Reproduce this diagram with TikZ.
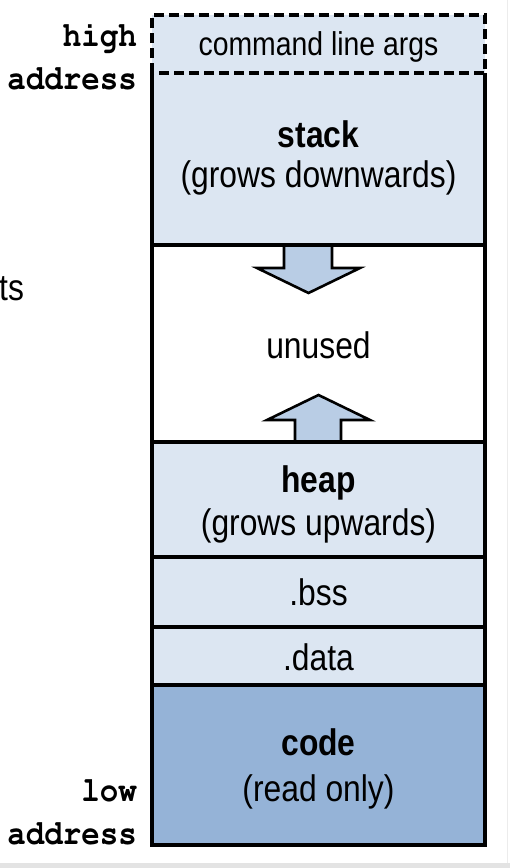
\documentclass[tikz,border=0pt]{standalone}
\usepackage[T1]{fontenc}
\usepackage{fontspec}
\setmainfont[FakeStretch=0.86]{Liberation Sans}
\usetikzlibrary{positioning}
\definecolor{segfill}{HTML}{DCE6F2}
\definecolor{codefill}{HTML}{95B3D7}
\definecolor{arrowfill}{HTML}{B9CDE5}
\newcommand\addrfont{\fontencoding{T1}\fontfamily{pcr}\fontseries{b}\fontsize{35}{43}\selectfont}
\newcommand\addrlines[2]{\scalebox{0.88}[1]{\begin{tabular}{@{}r@{}}#1\\#2\end{tabular}}}
\begin{document}
\begin{tikzpicture}[x=1pt,y=-1pt,node distance=0pt,
    seg/.style={fill=segfill,minimum width=333pt,inner sep=0pt,outer sep=0pt},
    segtext/.style={inner sep=0pt,align=center,font=\fontsize{37}{42}\selectfont},
    addr/.style={anchor=east,inner sep=0pt,font=\addrfont},
    border/.style={line width=3.2pt},
    growarrow/.style={fill=arrowfill,draw,line width=2.6pt,line join=miter}]
  \useasboundingbox (0,0) rectangle (510,868);
  \fill[gray!22] (0,863) rectangle (510,868);
  \draw[gray!15,line width=1pt] (507,0) -- (507,863);

  % memory segments, top to bottom
  \node[seg,minimum height=58pt] (args) at (318.5,44) {};
  \node[seg,minimum height=172pt,below=of args] (stack) {};
  \node[seg,minimum height=197pt,fill=white,below=of stack] (unused) {};
  \node[seg,minimum height=115pt,below=of unused] (heap) {};
  \node[seg,minimum height=70pt,below=of heap] (bss) {};
  \node[seg,minimum height=58pt,below=of bss] (data) {};
  \node[seg,minimum height=160pt,fill=codefill,below=of data] (code) {};

  % growth arrows
  \draw[growarrow] (284,245) -- (284,268) -- (257,268) -- (308.5,293) -- (360,268) -- (332,268) -- (332,245) -- cycle;
  \draw[growarrow] (295,442) -- (295,420) -- (267,420) -- (318.5,395) -- (370,420) -- (341,420) -- (341,442) -- cycle;

  % outlines
  \draw[border,dash pattern=on 10pt off 5pt] (args.south west) rectangle (args.north east);
  \draw[border] (stack.north west) -- (stack.south west) -- (stack.south east) -- (stack.north east);
  \foreach \s in {unused,heap,bss,data,code}
    \draw[border] (\s.north west) rectangle (\s.south east);

  % segment texts
  \node[segtext,anchor=base,font=\fontsize{33}{38}\selectfont] (argstext) at (318.5,55) {command line args};
  \node[segtext] (stacktext) at (318.5,157.6) {\textbf{stack}\\[-2pt](grows downwards)};
  \node[segtext,anchor=base] (unusedtext) at (318.5,358) {unused};
  \node[segtext] (heaptext) at (318.5,504) {\textbf{heap}\\[1pt](grows upwards)};
  \node[segtext,anchor=base] (bsstext) at (318.5,605) {.bss};
  \node[segtext,anchor=base] (datatext) at (318.5,670) {.data};
  \node[segtext] (codetext) at (318.5,768.6) {\textbf{code}\\[4pt](read only)};

  % address labels
  \node[addr] (high) at (137,59) {\addrlines{high}{address}};
  \node[addr] (low) at (137,814.5) {\addrlines{low}{address}};
  \node[anchor=base west,inner sep=0pt,font=\fontsize{37}{42}\selectfont] (cut) at (-1,300) {ts};
\end{tikzpicture}
\end{document}
